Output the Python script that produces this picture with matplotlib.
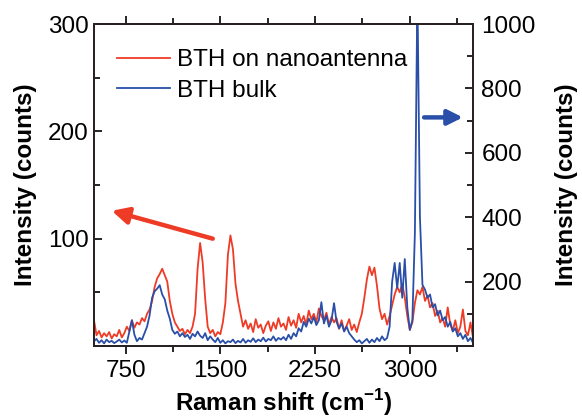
import matplotlib
matplotlib.use("Agg")
import matplotlib.pyplot as plt
from matplotlib.ticker import MultipleLocator

plt.rcParams['font.family'] = ['Liberation Sans', 'DejaVu Sans']
plt.rcParams['mathtext.fontset'] = 'custom'
plt.rcParams['mathtext.rm'] = 'Liberation Sans'
plt.rcParams['mathtext.bf'] = 'Liberation Sans:bold'

# Raman shift sample positions (cm^-1)
shift = [
    500, 520, 540, 560, 580, 600, 620, 640, 660, 680,
    700, 720, 740, 760, 780, 800, 820, 840, 860, 880,
    900, 920, 940, 960, 980, 1000, 1020, 1040, 1060, 1080,
    1100, 1120, 1140, 1160, 1180, 1200, 1220, 1240, 1260, 1280,
    1300, 1320, 1340, 1360, 1380, 1400, 1420, 1440, 1460, 1480,
    1500, 1520, 1540, 1560, 1580, 1600, 1620, 1640, 1660, 1680,
    1700, 1720, 1740, 1760, 1780, 1800, 1820, 1840, 1860, 1880,
    1900, 1920, 1940, 1960, 1980, 2000, 2020, 2040, 2060, 2080,
    2100, 2120, 2140, 2160, 2180, 2200, 2220, 2240, 2260, 2280,
    2300, 2320, 2340, 2360, 2380, 2400, 2420, 2440, 2460, 2480,
    2500, 2520, 2540, 2560, 2580, 2600, 2620, 2640, 2660, 2680,
    2700, 2720, 2740, 2760, 2780, 2800, 2820, 2840, 2860, 2880,
    2900, 2920, 2940, 2960, 2980, 3000, 3020, 3040, 3060, 3080,
    3100, 3120, 3140, 3160, 3180, 3200, 3220, 3240, 3260, 3280,
    3300, 3320, 3340, 3360, 3380, 3400, 3420, 3440, 3460, 3480,
    3500,
]

# BTH on nanoantenna (left axis, counts)
nanoantenna = [
    24, 10, 14, 8, 12, 9, 13, 7, 11, 9,
    15, 8, 12, 18, 14, 24, 17, 22, 20, 26,
    23, 30, 34, 42, 55, 63, 67, 72, 66, 60,
    42, 30, 22, 18, 14, 16, 11, 15, 12, 18,
    30, 72, 96, 78, 44, 18, 12, 15, 9, 13,
    11, 22, 40, 85, 103, 90, 58, 42, 30, 18,
    24, 16, 21, 13, 25, 17, 20, 12, 19, 23,
    14, 22, 16, 26, 18, 21, 15, 27, 19, 24,
    17, 30, 22, 28, 20, 33, 25, 30, 22, 35,
    28, 24, 31, 20, 27, 22, 26, 16, 24, 14,
    19, 25, 15, 20, 13, 22, 30, 45, 62, 74,
    66, 73, 56, 35, 25, 30, 20, 28, 38, 48,
    55, 50, 58, 45, 28, 15, 22, 40, 52, 48,
    55, 42, 47, 36, 40, 28, 33, 22, 26, 18,
    36, 20, 14, 24, 12, 18, 34, 14, 10, 22,
    8,
]

# BTH bulk (right axis, counts)
bulk = [
    15, 22, 10, 18, 8, 20, 12, 16, 9, 14,
    20, 11, 17, 10, 45, 80, 35, 15, 25, 20,
    40, 60, 95, 150, 170, 178, 189, 160, 145, 110,
    85, 50, 38, 45, 30, 40, 28, 35, 22, 38,
    30, 45, 32, 25, 40, 18, 30, 20, 12, 25,
    10, 18, 8, 15, 12, 20, 9, 16, 11, 22,
    10, 18, 13, 24, 12, 20, 15, 26, 14, 22,
    18, 30, 16, 25, 20, 28, 18, 35, 22, 40,
    30, 55, 45, 75, 60, 85, 70, 90, 65, 80,
    136, 70, 95, 60, 80, 133, 75, 55, 70, 45,
    60, 40, 30, 20, 12, 18, 8, 15, 22, 10,
    20, 12, 25, 15, 30, 18, 25, 60, 200, 258,
    180, 258, 150, 270, 120, 50, 80, 350, 1100, 400,
    190, 175, 150, 160, 120, 130, 95, 110, 80, 90,
    60, 75, 45, 55, 30, 40, 22, 35, 15, 25,
    10,
]

x_ticks = [750, 1500, 2250, 3000]
left_ticks = [100, 200, 300]
right_ticks = [200, 400, 600, 800, 1000]

RED = '#ee3b26'
BLUE = '#2a4fa8'
FS = 17.5

fig = plt.figure(figsize=(5.82, 4.19), dpi=100)
ax1 = fig.add_axes([0.1615, 0.1742, 0.6512, 0.7685])
ax2 = ax1.twinx()

l1, = ax1.plot(shift, nanoantenna, color=RED, lw=1.3, label='BTH on nanoantenna')
l2, = ax2.plot(shift, bulk, color=BLUE, lw=1.3, label='BTH bulk')

ax1.set_xlim(500, 3500)
ax1.set_ylim(0, 300)
ax2.set_ylim(0, 1000)

ax1.set_xticks(x_ticks)
ax1.xaxis.set_minor_locator(MultipleLocator(375))
ax1.set_yticks(left_ticks)
ax1.yaxis.set_minor_locator(MultipleLocator(50))
ax2.set_yticks(right_ticks)
ax2.yaxis.set_minor_locator(MultipleLocator(100))

for ax in (ax1, ax2):
    for s in ax.spines.values():
        s.set_linewidth(1.4)
        s.set_color('#2a2222')

ax1.tick_params(axis='x', which='both', direction='out', bottom=True, top=True,
                labelsize=FS, pad=4, width=1.2)
ax1.tick_params(axis='x', which='major', length=6)
ax1.tick_params(axis='x', which='minor', length=4)
ax1.tick_params(axis='y', which='both', direction='in', labelsize=FS, pad=4, width=1.2)
ax1.tick_params(axis='y', which='major', length=6)
ax1.tick_params(axis='y', which='minor', length=4)
ax2.tick_params(axis='y', which='both', direction='in', labelsize=FS, pad=6, width=1.2)
ax2.tick_params(axis='y', which='major', length=6)
ax2.tick_params(axis='y', which='minor', length=4)

ax1.set_xlabel(r'Raman shift (cm$^{\mathbf{-1}}$)', fontsize=FS, fontweight='bold', labelpad=4)
ax1.set_ylabel('Intensity (counts)', fontsize=FS, fontweight='bold', labelpad=8)
ax2.set_ylabel('Intensity (counts)', fontsize=FS, fontweight='bold', labelpad=14)

leg = ax2.legend(handles=[l1, l2], loc='upper left', bbox_to_anchor=(0.015, 0.975),
                 frameon=False, fontsize=FS, handlelength=2.2, handletextpad=0.3,
                 labelspacing=0.35, borderpad=0.2)

ax1.annotate('', xy=(640, 126), xytext=(1440, 100),
             arrowprops=dict(arrowstyle='-|>,head_length=1.0,head_width=0.5',
                             color=RED, lw=3.2, shrinkA=0, shrinkB=0))
ax2.annotate('', xy=(3420, 710), xytext=(3113, 710),
             arrowprops=dict(arrowstyle='-|>,head_length=0.9,head_width=0.45',
                             color=BLUE, lw=3.2, shrinkA=0, shrinkB=0))

fig.savefig('out.png', dpi=100)
